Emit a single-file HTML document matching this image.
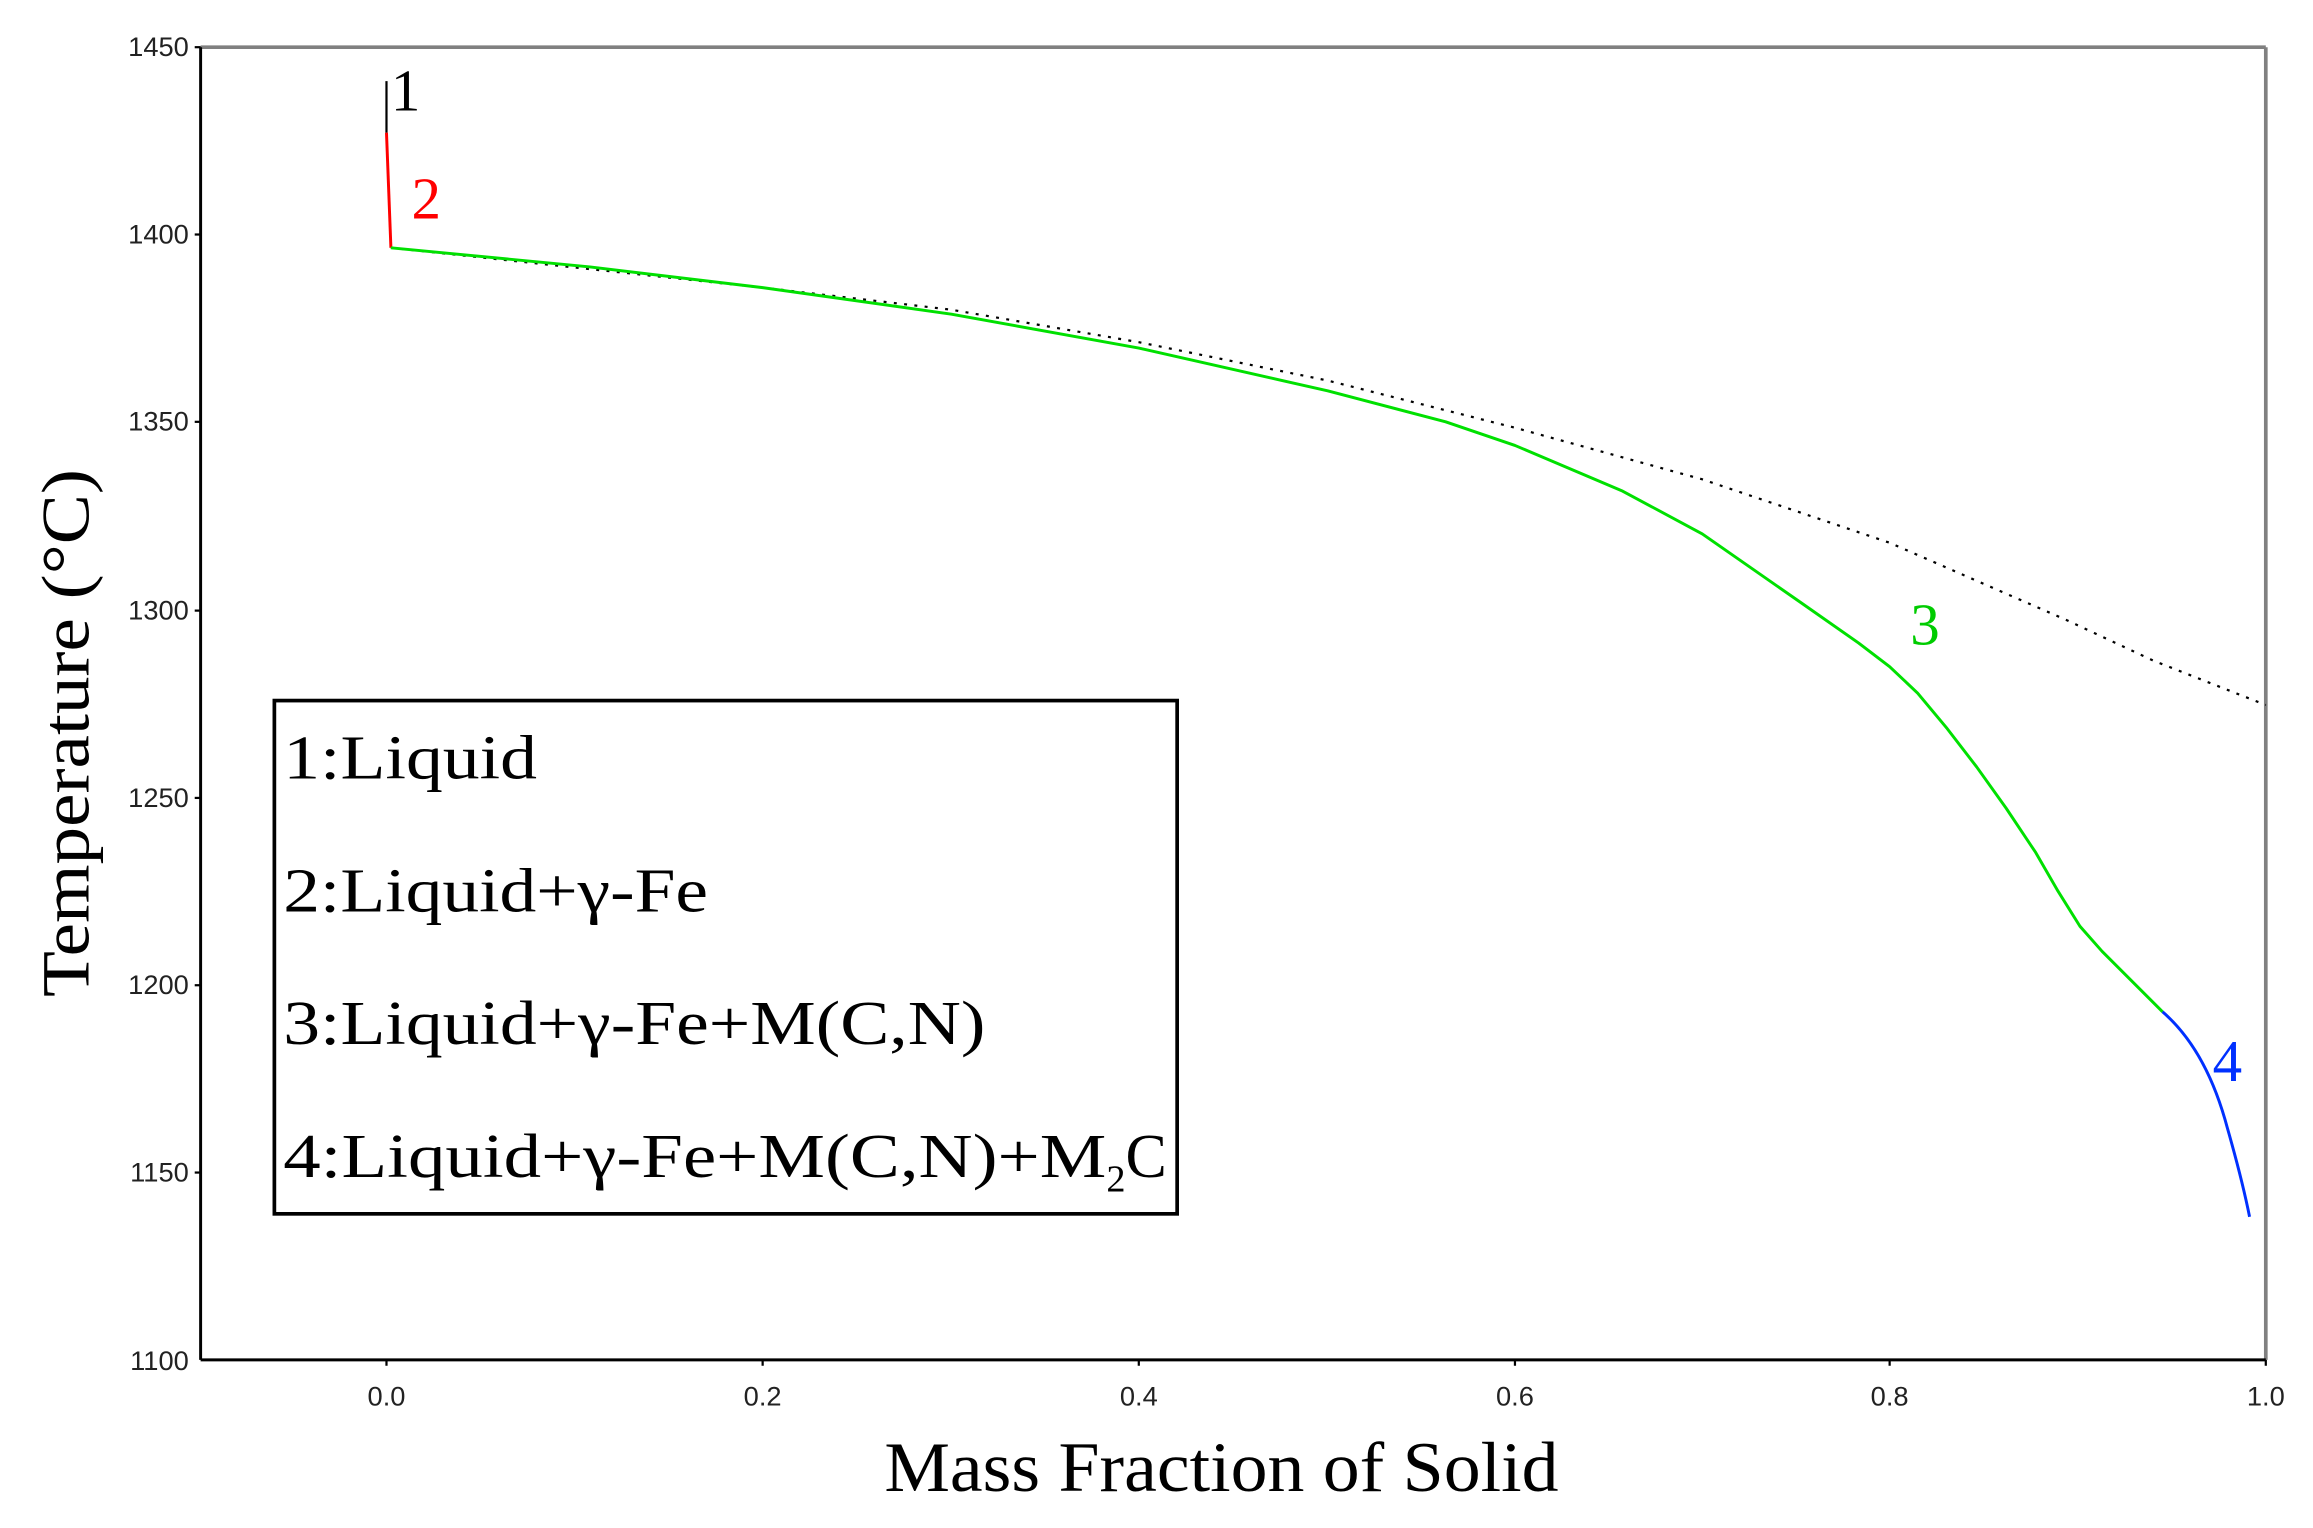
<!DOCTYPE html>
<html><head><meta charset="utf-8"><style>html,body{margin:0;padding:0;background:#fff}svg{display:block}</style></head>
<body>
<svg width="2313" height="1528" viewBox="0 0 1568 1036" preserveAspectRatio="none" xmlns="http://www.w3.org/2000/svg">
<rect width="1568" height="1036" fill="#fff"/>
<line x1="136" y1="32" x2="1536" y2="32" stroke="#808080" stroke-width="2.5"/>
<line x1="1536" y1="32" x2="1536" y2="922" stroke="#808080" stroke-width="2.5"/>
<line x1="136" y1="32" x2="136" y2="922" stroke="#000" stroke-width="2"/>
<line x1="136" y1="922" x2="1536" y2="922" stroke="#000" stroke-width="2"/>
<g font-family="Liberation Sans, sans-serif" font-size="18.5" fill="#222" text-anchor="end">
<text x="128" y="38">1450</text><text x="128" y="165">1400</text><text x="128" y="292">1350</text>
<text x="128" y="420">1300</text><text x="128" y="547">1250</text><text x="128" y="674">1200</text>
<text x="128" y="801">1150</text><text x="128" y="929">1100</text>
</g>
<g stroke="#000" stroke-width="1.5">
<line x1="132" y1="32" x2="136" y2="32"/><line x1="132" y1="159" x2="136" y2="159"/><line x1="132" y1="286" x2="136" y2="286"/>
<line x1="132" y1="414" x2="136" y2="414"/><line x1="132" y1="541" x2="136" y2="541"/><line x1="132" y1="668" x2="136" y2="668"/>
<line x1="132" y1="795" x2="136" y2="795"/>
<line x1="262" y1="922" x2="262" y2="926"/><line x1="517" y1="922" x2="517" y2="926"/><line x1="772" y1="922" x2="772" y2="926"/>
<line x1="1027" y1="922" x2="1027" y2="926"/><line x1="1281" y1="922" x2="1281" y2="926"/><line x1="1536" y1="922" x2="1536" y2="926"/>
</g>
<g font-family="Liberation Sans, sans-serif" font-size="18.5" fill="#222" text-anchor="middle">
<text x="262" y="953">0.0</text><text x="517" y="953">0.2</text><text x="772" y="953">0.4</text>
<text x="1027" y="953">0.6</text><text x="1281" y="953">0.8</text><text x="1536" y="953">1.0</text>
</g>
<polyline fill="none" stroke="#000" stroke-width="1.5" stroke-dasharray="2,5" points="265,168 517,195 645,210 772,232 900,258 1027,290 1154,325 1281,368 1400,420 1460,448 1536,478"/>
<line x1="262" y1="55" x2="262" y2="90" stroke="#000" stroke-width="1.5"/>
<polyline fill="none" stroke="#ff0000" stroke-width="2" points="262,90 265,168"/>
<polyline fill="none" stroke="#00e000" stroke-width="2" stroke-linejoin="round" points="265,168 400,181 517,195 645,213 772,236 900,265 980,286 1027,302 1100,333 1154,362 1220,408 1260,436 1281,452 1300,470 1320,494 1340,520 1360,548 1380,578 1395,604 1410,628 1425,645 1445,665 1466,686"/>
<path fill="none" stroke="#0030ff" stroke-width="2" d="M1466,686 Q1496,712 1510,765 Q1520,800 1525,825"/>
<g font-family="Liberation Serif, serif" font-size="40">
<text x="265" y="75" fill="#000">1</text>
<text x="279" y="148" fill="#ff0000">2</text>
<text x="1295" y="437" fill="#00cc00">3</text>
<text x="1500" y="733" fill="#0030ff">4</text>
</g>
<rect x="186" y="475" width="612" height="348" fill="#fff" stroke="#000" stroke-width="2.5"/>
<g font-family="Liberation Serif, 'DejaVu Serif', serif" font-size="42" fill="#000">
<text x="192" y="528" textLength="172" lengthAdjust="spacingAndGlyphs">1:Liquid</text>
<text x="192" y="618" textLength="288" lengthAdjust="spacingAndGlyphs">2:Liquid+γ-Fe</text>
<text x="192" y="708" textLength="476" lengthAdjust="spacingAndGlyphs">3:Liquid+γ-Fe+M(C,N)</text>
<text x="192" y="798" textLength="558" lengthAdjust="spacingAndGlyphs">4:Liquid+γ-Fe+M(C,N)+M</text>
<text x="750" y="808" font-size="26">2</text>
<text x="763" y="798">C</text>
</g>
<text transform="translate(60,497) rotate(-90)" text-anchor="middle" font-family="Liberation Serif, serif" font-size="46" fill="#000" textLength="358" lengthAdjust="spacingAndGlyphs">Temperature (°C)</text>
<text x="828" y="1011" text-anchor="middle" font-family="Liberation Serif, serif" font-size="48" fill="#000" textLength="457" lengthAdjust="spacingAndGlyphs">Mass Fraction of Solid</text>
</svg>
</body></html>
